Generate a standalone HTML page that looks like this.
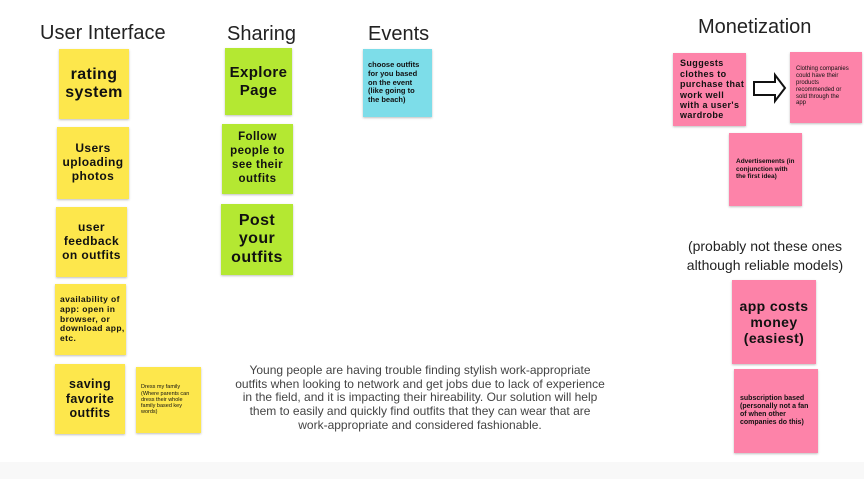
<!DOCTYPE html>
<html><head><meta charset="utf-8"><style>
body{margin:0;width:864px;height:479px;background:#fff;position:relative;overflow:hidden;font-family:"Liberation Sans",sans-serif}
.t{position:absolute;font-size:20px;color:#222;white-space:nowrap}
.n{position:absolute;display:flex;align-items:center;justify-content:center;text-align:center;font-weight:bold;color:#111;box-shadow:0 1px 2px rgba(0,0,0,.25);box-sizing:border-box;line-height:1.15;letter-spacing:.4px}
.y{background:#fde74c}.g{background:#b4e832}.c{background:#7ddde9}.p{background:#fd83a9}
.l{text-align:left;justify-content:flex-start}
</style></head><body>
<div style="position:absolute;left:0;top:462px;width:864px;height:17px;background:#f8f8f8"></div>
<div class="t" style="left:40px;top:22px">User Interface</div>
<div class="t" style="left:227px;top:23px">Sharing</div>
<div class="t" style="left:368px;top:23px">Events</div>
<div class="t" style="left:698px;top:16px">Monetization</div>

<div class="n y" style="left:59px;top:49px;width:70px;height:70px;font-size:16px">rating<br>system</div>
<div class="n y" style="left:57px;top:127px;width:72px;height:72px;font-size:12px">Users<br>uploading<br>photos</div>
<div class="n y" style="left:56px;top:207px;width:71px;height:70px;font-size:12px">user<br>feedback<br>on outfits</div>
<div class="n y l" style="left:55px;top:284px;width:71px;height:71px;font-size:8.5px;padding-left:5px">availability of<br>app: open in<br>browser, or<br>download app,<br>etc.</div>
<div class="n y" style="left:55px;top:364px;width:70px;height:70px;font-size:12.5px">saving<br>favorite<br>outfits</div>
<div class="n y l" style="left:136px;top:367px;width:65px;height:66px;font-size:5.5px;padding-left:5px;font-weight:normal;letter-spacing:0">Dress my family<br>(Where parents can<br>dress their whole<br>family based key<br>words)</div>

<div class="n g" style="left:225px;top:48px;width:67px;height:67px;font-size:15px">Explore<br>Page</div>
<div class="n g" style="left:222px;top:124px;width:71px;height:70px;font-size:11.5px;line-height:1.2">Follow<br>people to<br>see their<br>outfits</div>
<div class="n g" style="left:221px;top:204px;width:72px;height:71px;font-size:16px">Post<br>your<br>outfits</div>

<div class="n c l" style="left:363px;top:49px;width:69px;height:68px;font-size:7.5px;padding-left:5px;letter-spacing:0">choose outfits<br>for you based<br>on the event<br>(like going to<br>the beach)</div>

<div style="position:absolute;left:230px;top:364px;width:380px;text-align:center;font-size:12px;line-height:13.7px;color:#444">Young people are having trouble finding stylish work-appropriate<br>outfits when looking to network and get jobs due to lack of experience<br>in the field, and it is impacting their hireability. Our solution will help<br>them to easily and quickly find outfits that they can wear that are<br>work-appropriate and considered fashionable.</div>

<div class="n p l" style="left:673px;top:53px;width:73px;height:73px;font-size:9px;padding-left:7px">Suggests<br>clothes to<br>purchase that<br>work well<br>with a user's<br>wardrobe</div>
<svg style="position:absolute;left:750px;top:72px" width="40" height="34"><polygon points="4,10 25,10 25,3 35,16 25,29 25,23 4,23" fill="#fff" stroke="#111" stroke-width="2"/></svg>
<div class="n p l" style="left:790px;top:52px;width:72px;height:71px;font-size:6px;padding-left:6px;font-weight:normal;align-items:flex-start;padding-top:14px;letter-spacing:0">Clothing companies<br>could have their<br>products<br>recommended or<br>sold through the<br>app</div>
<div class="n p l" style="left:729px;top:133px;width:73px;height:73px;font-size:6.5px;padding-left:7px;letter-spacing:0">Advertisements (in<br>conjunction with<br>the first idea)</div>
<div style="position:absolute;left:680px;top:237px;width:170px;text-align:center;font-size:14px;line-height:19px;color:#222">(probably not these ones<br>although reliable models)</div>
<div class="n p" style="left:732px;top:280px;width:84px;height:84px;font-size:14px">app costs<br>money<br>(easiest)</div>
<div class="n p l" style="left:734px;top:369px;width:84px;height:84px;font-size:7px;padding-left:6px;letter-spacing:0">subscription based<br>(personally not a fan<br>of when other<br>companies do this)</div>
</body></html>
